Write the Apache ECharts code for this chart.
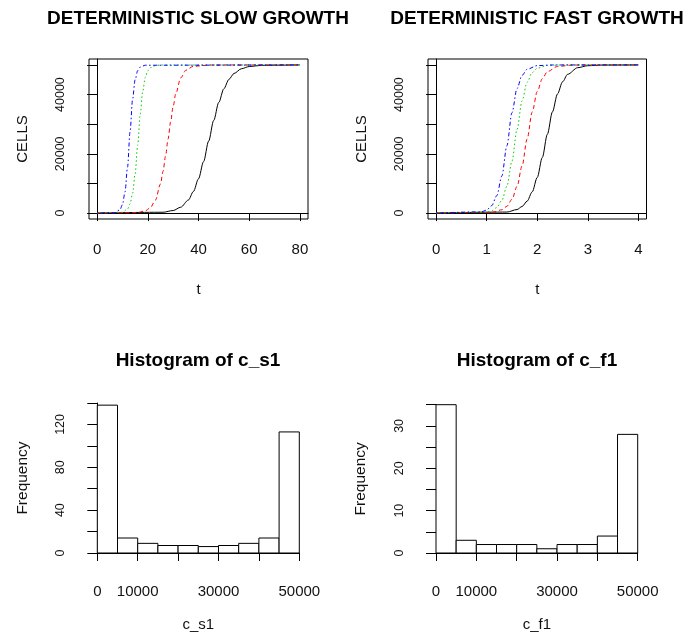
<!DOCTYPE html>
<html>
<head>
<meta charset="utf-8">
<script src="https://cdn.jsdelivr.net/npm/echarts@6/dist/echarts.min.js"></script>
<style>
html,body{margin:0;padding:0;background:#fff;}
#chart{width:689px;height:637px;}
</style>
</head>
<body>
<div id="chart"></div>
<script>
// ---- Deterministic slow growth (t, CELLS) ----
var slowBlackT = [0, 26, 30, 33, 36, 38, 40, 42, 44, 46, 48, 50, 52, 54, 57, 60, 65, 80];
var slowBlack  = [0, 280, 860, 1980, 4390, 7280, 11570, 17360, 24280, 31270, 37350, 41960, 45110, 47120, 48730, 49450, 49870, 50000];
var slowRedT   = [0, 16, 19, 21, 23, 25, 26, 27, 28, 29, 30, 31, 33, 35, 38, 45, 80];
var slowRed    = [0, 180, 720, 1800, 4350, 9800, 14050, 19230, 25000, 30770, 35950, 40200, 45650, 48200, 49550, 49980, 50000];
var slowGreenT = [0, 10, 12, 13, 14, 15, 16, 17, 18, 19, 20, 22, 25, 80];
var slowGreen  = [0, 260, 1370, 3090, 6680, 13260, 22880, 33190, 41100, 45760, 48100, 49640, 49970, 50000];
var slowBlueT  = [0, 7, 9, 10, 11, 12, 13, 14, 15, 16, 17, 19, 80];
var slowBlue   = [0, 150, 1100, 2870, 7090, 15480, 27490, 38430, 45010, 48040, 49260, 49900, 50000];

// ---- Deterministic fast growth (t, CELLS) ----
var fastBlackT = [0, 1.4, 1.6, 1.7, 1.8, 1.9, 2.0, 2.1, 2.2, 2.3, 2.4, 2.5, 2.6, 2.8, 3.0, 3.3, 4];
var fastBlack  = [0, 340, 1190, 2220, 4030, 7150, 12020, 18760, 26600, 34150, 40180, 44290, 46820, 49070, 49740, 49960, 50000];
var fastRedT   = [0, 1.1, 1.3, 1.4, 1.5, 1.6, 1.7, 1.8, 1.9, 2.0, 2.1, 2.2, 2.4, 2.7, 4];
var fastRed    = [0, 240, 1100, 2280, 4640, 8980, 15920, 25000, 34080, 41020, 45360, 47720, 49480, 49950, 50000];
var fastGreenT = [0, 1.0, 1.1, 1.2, 1.3, 1.4, 1.5, 1.6, 1.7, 1.8, 1.9, 2.0, 2.2, 2.5, 4];
var fastGreen  = [0, 330, 780, 1850, 4240, 9120, 17480, 28230, 37880, 44140, 47390, 48890, 49810, 49990, 50000];
var fastBlueT  = [0, 0.9, 1.0, 1.1, 1.2, 1.3, 1.4, 1.5, 1.6, 1.7, 1.8, 2.0, 2.3, 4];
var fastBlue   = [0, 420, 1030, 2510, 5860, 12500, 22730, 33850, 42020, 46480, 48530, 49760, 49990, 50000];

// ---- Histograms ----
var binEdges = [0, 5000, 10000, 15000, 20000, 25000, 30000, 35000, 40000, 45000, 50000];
var countsS1 = [138, 14, 9, 7, 7, 6, 7, 9, 14, 113];
var countsF1 = [35, 3, 2, 2, 2, 1, 2, 2, 4, 28];

// ---- Tick values / labels ----
var slowXTicks = [0, 20, 40, 60, 80];
var fastXTicks = [0, 1, 2, 3, 4];
var cellTicks  = [0, 10000, 20000, 30000, 40000, 50000];
var cellLabels = [0, 20000, 40000];
var histXLabels = [0, 10000, 30000, 50000];
var s1YLabels = [0, 40, 80, 120];
var f1YLabels = [0, 10, 20, 30];

var FONT = "'Liberation Sans', Arial, Helvetica, sans-serif";

function pairs(xs, ys) { return xs.map(function (x, i) { return [x, ys[i]]; }); }
function bins(counts) {
  return counts.map(function (c, i) { return [binEdges[i], binEdges[i + 1], c]; });
}
function plain(v) { return String(v); }

var lineStyles = [
  { color: '#000000', type: 'solid' },
  { color: '#FF0000', type: [4, 3] },
  { color: '#00CD00', type: [1.5, 2.5] },
  { color: '#0000FF', type: [1.5, 2.5, 4, 2.5] }
];

function lineSeries(idx, data, k) {
  return {
    type: 'line', xAxisIndex: idx, yAxisIndex: idx, data: data,
    showSymbol: false, symbol: 'none', smooth: 0.3, smoothMonotone: 'x',
    lineStyle: { width: 1, color: lineStyles[k].color, type: lineStyles[k].type },
    silent: true, animation: false, z: 2 + k
  };
}

function histRender(params, api) {
  var p0 = api.coord([api.value(0), api.value(2)]);
  var p1 = api.coord([api.value(1), 0]);
  return {
    type: 'rect',
    shape: { x: p0[0], y: p0[1], width: p1[0] - p0[0], height: p1[1] - p0[1] },
    style: { fill: '#ffffff', stroke: '#000000', lineWidth: 1 }
  };
}

var axisLineS = { show: true, lineStyle: { color: '#000', width: 1 } };

function topX(idx, min, max, ticks) {
  return {
    gridIndex: idx, type: 'value', min: min, max: max,
    axisLine: axisLineS,
    axisTick: { show: true, customValues: ticks, length: 8, lineStyle: { color: '#000' } },
    axisLabel: { customValues: ticks, formatter: plain, margin: 23, fontSize: 15, color: '#111', fontFamily: FONT },
    splitLine: { show: false },
    name: 't', nameLocation: 'middle', nameGap: 63,
    nameTextStyle: { fontSize: 15, color: '#111', fontFamily: FONT }
  };
}
function topY(idx) {
  return {
    gridIndex: idx, type: 'value', min: -2000, max: 52000,
    axisLine: axisLineS,
    axisTick: { show: true, customValues: cellTicks, length: 10, lineStyle: { color: '#000' } },
    axisLabel: { customValues: cellLabels, formatter: plain, rotate: 90, margin: 22, fontSize: 12.5, color: '#111', fontFamily: FONT },
    splitLine: { show: false },
    name: 'CELLS', nameLocation: 'middle', nameGap: 59,
    nameTextStyle: { fontSize: 15, color: '#111', fontFamily: FONT }
  };
}
function histX(idx, name) {
  return {
    gridIndex: idx, type: 'value', min: 0, max: 50000, interval: 10000, offset: 6,
    axisLine: axisLineS,
    axisTick: { show: true, length: 8, lineStyle: { color: '#000' } },
    axisLabel: {
      margin: 25, fontSize: 15, color: '#111', fontFamily: FONT, showMinLabel: true, showMaxLabel: true,
      formatter: function (v) { return histXLabels.indexOf(v) >= 0 ? String(v) : ''; }
    },
    splitLine: { show: false },
    name: name, nameLocation: 'middle', nameGap: 58,
    nameTextStyle: { fontSize: 15, color: '#111', fontFamily: FONT }
  };
}
function histY(idx, max, interval, shown) {
  return {
    gridIndex: idx, type: 'value', min: 0, max: max, interval: interval, offset: 8,
    axisLine: axisLineS,
    axisTick: { show: true, length: 10, lineStyle: { color: '#000' } },
    axisLabel: {
      rotate: 90, margin: 22, fontSize: 12.5, color: '#111', fontFamily: FONT,
      formatter: function (v) { return shown.indexOf(v) >= 0 ? String(v) : ''; }
    },
    splitLine: { show: false },
    name: 'Frequency', nameLocation: 'middle', nameGap: 59,
    nameTextStyle: { fontSize: 15.5, color: '#111', fontFamily: FONT }
  };
}

var titleStyle = { fontSize: 19, fontWeight: 'bold', color: '#000', fontFamily: FONT };

var option = {
  backgroundColor: '#ffffff',
  animation: false,
  title: [
    { text: 'DETERMINISTIC SLOW GROWTH', left: 198, top: 9, textAlign: 'center', padding: 0, textStyle: titleStyle },
    { text: 'DETERMINISTIC FAST GROWTH', left: 537, top: 9, textAlign: 'center', padding: 0, textStyle: titleStyle },
    { text: 'Histogram of c_s1', left: 198, top: 351, textAlign: 'center', padding: 0, textStyle: titleStyle },
    { text: 'Histogram of c_f1', left: 537, top: 351, textAlign: 'center', padding: 0, textStyle: titleStyle }
  ],
  grid: [
    { left: 89, top: 59, width: 219, height: 160, show: true, borderColor: '#000', borderWidth: 1, backgroundColor: 'transparent' },
    { left: 428, top: 59, width: 218.5, height: 160, show: true, borderColor: '#000', borderWidth: 1, backgroundColor: 'transparent' },
    { left: 97.3, top: 403, width: 202, height: 150 },
    { left: 436, top: 404.7, width: 201.7, height: 148.3 }
  ],
  xAxis: [
    topX(0, -3.2, 83.2, slowXTicks),
    topX(1, -0.16, 4.16, fastXTicks),
    histX(2, 'c_s1'),
    histX(3, 'c_f1')
  ],
  yAxis: [
    topY(0),
    topY(1),
    histY(2, 140, 20, s1YLabels),
    histY(3, 35, 5, f1YLabels)
  ],
  series: [
    lineSeries(0, pairs(slowBlackT, slowBlack), 0),
    lineSeries(0, pairs(slowRedT, slowRed), 1),
    lineSeries(0, pairs(slowGreenT, slowGreen), 2),
    lineSeries(0, pairs(slowBlueT, slowBlue), 3),
    lineSeries(1, pairs(fastBlackT, fastBlack), 0),
    lineSeries(1, pairs(fastRedT, fastRed), 1),
    lineSeries(1, pairs(fastGreenT, fastGreen), 2),
    lineSeries(1, pairs(fastBlueT, fastBlue), 3),
    { type: 'custom', xAxisIndex: 2, yAxisIndex: 2, data: bins(countsS1), renderItem: histRender,
      encode: { x: [0, 1], y: 2 }, silent: true, clip: false },
    { type: 'custom', xAxisIndex: 3, yAxisIndex: 3, data: bins(countsF1), renderItem: histRender,
      encode: { x: [0, 1], y: 2 }, silent: true, clip: false }
  ]
};

var chart = echarts.init(document.getElementById('chart'), null, { renderer: 'canvas' });
chart.setOption(option);
</script>
</body>
</html>
